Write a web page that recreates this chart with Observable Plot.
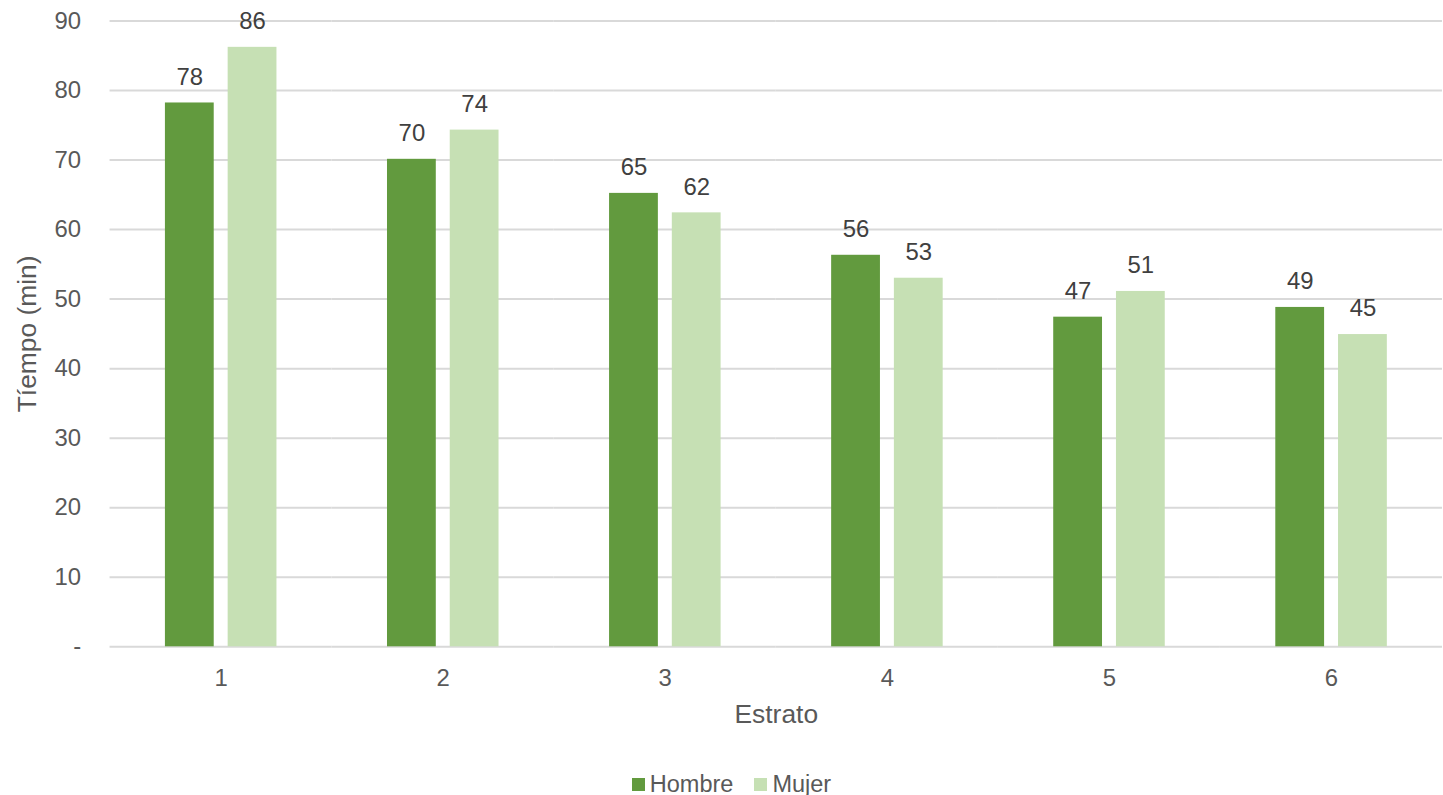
<!DOCTYPE html>
<html>
<head>
<meta charset="utf-8">
<script src="https://cdn.jsdelivr.net/npm/d3@7"></script>
<script src="https://cdn.jsdelivr.net/npm/@observablehq/plot@0.6"></script>
<style>
  html, body { margin: 0; padding: 0; overflow: hidden; background: #fff; }
  body { width: 1443px; height: 795px; position: relative; font-family: "Liberation Sans", Arial, sans-serif; }
  #legend { position: absolute; left: 0; width: 1443px; top: 771px; height: 26px; display: flex; justify-content: center; align-items: center; gap: 21px; font-size: 23.5px; color: #595959; padding-left: 20px; box-sizing: border-box; }
  .item { display: flex; align-items: center; gap: 5px; }
  .sw { width: 13px; height: 13px; display: inline-block; }
</style>
</head>
<body>
<div id="chart"></div>
<div id="legend"></div>
<script>
const estratos = ["1", "2", "3", "4", "5", "6"];
const series = ["Hombre", "Mujer"];
const hombre = [78.2, 70.1, 65.2, 56.3, 47.4, 48.8];
const mujer = [86.2, 74.3, 62.4, 53.0, 51.1, 44.9];
const colors = ["#629a3e", "#c6e0b4"];
const yTicks = [0, 10, 20, 30, 40, 50, 60, 70, 80, 90];

const data = estratos.flatMap((e, i) => [
  {estrato: e, sexo: series[0], valor: hombre[i]},
  {estrato: e, sexo: series[1], valor: mujer[i]}
]);

const chart = Plot.plot({
  width: 1449,
  height: 765,
  marginLeft: 109.4,
  marginRight: 0.4,
  marginTop: 20.5,
  marginBottom: 116,
  style: {fontFamily: "Liberation Sans, Arial, sans-serif", fontSize: "24px", color: "#595959", background: "#fff"},
  fx: {domain: estratos, padding: 0},
  x: {domain: series, paddingInner: 0.21875, paddingOuter: 0.853, axis: null},
  y: {domain: [0, 90]},
  color: {domain: series, range: colors},
  marks: [
    Plot.gridY({ticks: yTicks, stroke: "#d9d9d9", strokeOpacity: 1, strokeWidth: 2}),
    Plot.barY(data, {fx: "estrato", x: "sexo", y: "valor", fill: "sexo"}),
    Plot.text(data, {fx: "estrato", x: "sexo", y: "valor", text: d => Math.round(d.valor), dy: -26, fontSize: 24, fill: "#404040"}),
    Plot.axisY({ticks: yTicks, tickFormat: d => d === 0 ? "-" : String(d), tickSize: 0, tickPadding: 29, fontSize: 24, label: null}),
    Plot.axisY({ticks: [], tickSize: 0, fontSize: 26.5, label: "Tíempo (min)", labelAnchor: "center", labelArrow: "none", labelOffset: 93}),
    Plot.axisFx({anchor: "bottom", tickSize: 0, tickPadding: 22, fontSize: 24, label: null}),
    Plot.axisFx({anchor: "bottom", ticks: [], tickSize: 0, fontSize: 26.5, label: "Estrato", labelAnchor: "center", labelArrow: "none", labelOffset: 77})
  ]
});
document.getElementById("chart").appendChild(chart);

const legend = document.getElementById("legend");
series.forEach((s, i) => {
  const item = document.createElement("span");
  item.className = "item";
  const sw = document.createElement("span");
  sw.className = "sw";
  sw.style.background = colors[i];
  const t = document.createElement("span");
  t.textContent = s;
  item.appendChild(sw);
  item.appendChild(t);
  legend.appendChild(item);
});
</script>
</body>
</html>
